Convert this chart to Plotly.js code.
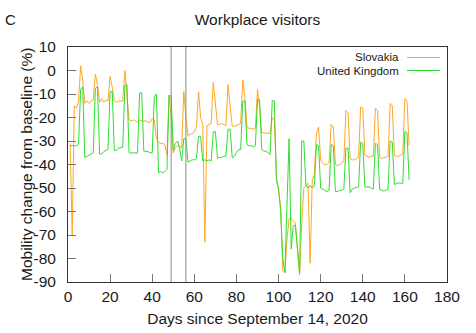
<!DOCTYPE html>
<html>
<head>
<meta charset="utf-8">
<script src="https://cdn.plot.ly/plotly-3.0.1.min.js"></script>
<style>html,body{margin:0;padding:0;background:#fff;}#chart{width:476px;height:333px;}</style>
</head>
<body>
<div id="chart"></div>
<script>
// Workplace mobility change from baseline (%), day 1 = Monday 14 Sept 2020
const slovakia = [
  -31, -70, -15, -16, -13, 2, -4,
  -14, -13, -14, -13, -12.5, -1.5, -6,
  -13.5, -12, -13.5, -12.5, -13, -2.5, -7,
  -13, -13.5, -13, -13, -13, 0, -9,
  -21, -21.5, -21, -21.5, -22, -21, -21.5,
  -21.5, -21.5, -22, -22, -20.5, -21, -29,
  -30.5, -31, -31, -31.5, -36, -10.5, -20,
  -35, -33, -32, -32, -33, -9, -20,
  -28, -27, -27, -26, -24, -9, -20,
  -23, -73, -23.5, -23, -22.5, -5, -14,
  -23, -23, -22.5, -23, -23.5, -6, -16,
  -23.7, -23.7, -23.5, -23, -22.5, -4, -11,
  -24.4, -24.5, -24.7, -25, -24.5, -8, -16,
  -26.5, -26.5, -26.5, -26.5, -26.8, -20, -21,
  -45, -51, -58, -85, -86, -72, -63,
  -63, -64, -65, -76, -87, -65, -50,
  -49, -48, -82, -47, -44, -27, -24,
  -38, -39.5, -40, -40, -39, -23, -24,
  -40, -40.5, -40, -39.5, -38.5, -17, -18,
  -37.5, -38, -38, -37.5, -37, -15.5, -16,
  -36, -36.5, -37, -36.5, -36.5, -16, -17,
  -37, -37.5, -37, -37, -36.5, -14, -15,
  -36, -36.5, -36.5, -36, -35.5, -12, -13,
  -32
];
const unitedKingdom = [
  -32, -32, -32, -32, -31.5, -8, -7,
  -37, -36.5, -36, -35.5, -35, -7.5, -7,
  -35.6, -35.5, -34.5, -34, -33.5, -9, -9,
  -34, -34, -33, -33, -32.7, -6.5, -6,
  -35, -35.2, -35, -35, -35.2, -9.5, -9.5,
  -34.3, -34.3, -34.5, -35, -35, -11, -10,
  -43.5, -43, -43.5, -43, -42, -10.5, -11,
  -34, -31, -30, -33, -38.5, -29, -29,
  -39, -38.5, -38, -38, -37.5, -28, -28,
  -38.5, -38, -38.5, -38, -38.5, -26, -26,
  -37.3, -37, -37, -36.5, -36.5, -25, -25,
  -37.2, -36.5, -35, -33.6, -33.6, -13, -13,
  -31.5, -32, -32, -32.5, -32, -12.3, -12.5,
  -33.6, -34.3, -34.3, -35, -35.7, -12.8, -13,
  -47, -50, -60, -80, -86, -57, -29,
  -76, -66, -66, -76, -86, -30, -30,
  -49, -50, -49, -50, -49, -31.5, -32,
  -50, -50.5, -51, -51.5, -51, -31.5, -32,
  -51.5, -51.5, -51, -51, -50.5, -33, -33,
  -52, -50.5, -50, -49.8, -49.5, -30.5, -31,
  -49.6, -49.5, -49.5, -50, -50.5, -31, -31.5,
  -50.6, -51, -51.3, -51, -50.5, -30, -30.5,
  -48.5, -48, -47.8, -48, -48, -26, -26.5,
  -46.5
];
const days = slovakia.map((_, i) => i + 1);
const markerDays = [49, 56];
const seriesNames = ['Slovakia', 'United Kingdom'];
const seriesColors = ['#ffa726', '#2ee02e'];
const xTicks = [0, 20, 40, 60, 80, 100, 120, 140, 160, 180];
const yTicks = [10, 0, -10, -20, -30, -40, -50, -60, -70, -80, -90];

const FONT = 'Liberation Sans, Arial, sans-serif';
const TXT = '#1a1a1a';
const traces = [
  {x: days, y: slovakia, name: seriesNames[0], type: 'scatter', mode: 'lines',
   line: {color: seriesColors[0], width: 1}},
  {x: days, y: unitedKingdom, name: seriesNames[1], type: 'scatter', mode: 'lines',
   line: {color: seriesColors[1], width: 1}}
];

const shapes = markerDays.map(d => ({
  type: 'line', xref: 'x', yref: 'paper', x0: d, x1: d, y0: 0, y1: 1,
  line: {color: '#8a8a8a', width: 1}, layer: 'above'
}));
// legend samples (top-right, text left of line)
const legY = [0.9555, 0.9];
seriesNames.forEach((n, i) => {
  shapes.push({type: 'line', xref: 'paper', yref: 'paper', x0: 0.8945, x1: 0.9815,
    y0: legY[i], y1: legY[i], line: {color: seriesColors[i], width: 1}});
});
const annotations = seriesNames.map((n, i) => ({
  text: n, xref: 'paper', yref: 'paper', x: 0.8747, y: legY[i],
  xanchor: 'right', yanchor: 'middle', showarrow: false, borderpad: 0,
  font: {family: FONT, size: 11.5, color: TXT}
}));
annotations.push({text: 'C', xref: 'paper', yref: 'paper', x: -0.152, y: 1.115,
  xanchor: 'center', yanchor: 'middle', showarrow: false,
  font: {family: FONT, size: 15, color: TXT}});
annotations.push({text: 'Mobility change from baseline (%)', xref: 'paper', yref: 'paper',
  x: -0.1095, y: 0.5, xanchor: 'center', yanchor: 'middle', textangle: -90, showarrow: false,
  font: {family: FONT, size: 15.5, color: TXT}});

const axisCommon = {
  showgrid: false, zeroline: false, showline: true, mirror: true,
  linecolor: '#333', linewidth: 1, ticks: 'inside', ticklen: 8,
  tickcolor: '#777', tickwidth: 1,
  tickfont: {family: FONT, size: 15.5, color: TXT}
};

const layout = {
  width: 476, height: 333,
  margin: {l: 68, r: 29, t: 47, b: 51},
  paper_bgcolor: '#fff', plot_bgcolor: '#fff',
  showlegend: false,
  title: {text: 'Workplace visitors', font: {family: FONT, size: 15.5, color: TXT},
          xref: 'paper', x: 0.5, xanchor: 'center', yref: 'container', y: 0.94, yanchor: 'middle'},
  xaxis: Object.assign({}, axisCommon, {
    range: [0, 180], tickvals: xTicks, ticktext: xTicks.map(String), ticklabelstandoff: 0,
    title: {text: 'Days since September 14, 2020', font: {family: FONT, size: 15.5, color: TXT}, standoff: 9}
  }),
  yaxis: Object.assign({}, axisCommon, {
    range: [-90, 10], tickvals: yTicks, ticktext: yTicks.map(String), ticklabelstandoff: 8
  }),
  shapes: shapes,
  annotations: annotations
};

Plotly.newPlot('chart', traces, layout, {staticPlot: true, displayModeBar: false});
</script>
</body>
</html>
